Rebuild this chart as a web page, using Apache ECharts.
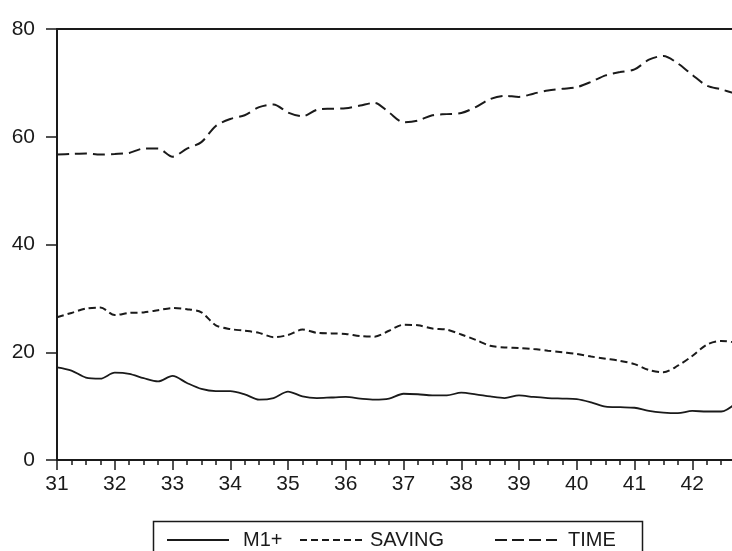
<!DOCTYPE html>
<html>
<head>
<meta charset="utf-8">
<script src="https://cdn.jsdelivr.net/npm/echarts@6/dist/echarts.min.js"></script>
<style>
html,body{margin:0;padding:0;background:#fff;width:732px;height:551px;overflow:hidden;}
#chart{width:753px;height:551px;}
</style>
</head>
<body>
<div id="chart"></div>
<script>
// Quarterly observations, 31Q1 .. 42Q4 (x = year + quarter offset)
const startYear = 31;
const quarterStep = 0.25;
const seriesNames = ['M1+', 'SAVING', 'TIME'];
const m1Values = [17.2,16.6,15.3,15.1,16.2,16.0,15.2,14.6,15.6,14.3,13.2,12.8,
  12.8,12.2,11.2,11.5,12.7,11.8,11.5,11.6,11.7,11.4,11.2,11.4,
  12.3,12.2,12.0,12.0,12.5,12.2,11.8,11.5,12.0,11.7,11.5,11.4,
  11.3,10.7,9.9,9.8,9.7,9.1,8.8,8.7,9.1,9.0,9.0,10.5];
const savingValues = [26.5,27.3,28.1,28.3,26.9,27.3,27.4,27.8,28.2,28.0,27.4,25.0,
  24.3,24.0,23.6,22.8,23.2,24.2,23.6,23.5,23.4,23.0,22.9,24.0,
  25.1,25.0,24.4,24.2,23.3,22.3,21.2,20.9,20.8,20.6,20.3,20.0,
  19.7,19.2,18.8,18.4,17.8,16.7,16.3,17.5,19.3,21.4,22.1,21.8];
const timeValues = [56.7,56.8,56.9,56.7,56.8,57.0,57.8,57.8,56.3,57.8,59.0,62.0,
  63.3,64.0,65.5,66.0,64.5,63.8,65.0,65.2,65.3,65.8,66.3,64.5,
  62.7,63.0,64.0,64.2,64.4,65.5,67.0,67.6,67.4,68.0,68.6,68.9,
  69.2,70.2,71.4,72.0,72.5,74.3,75.0,73.6,71.5,69.5,68.8,68.0];
const yTicks = [0, 20, 40, 60, 80];

function pairs(vals){ return vals.map((v,i)=>[startYear + i*quarterStep, v]); }

const ink = '#1a1a1a';
const font = '"Liberation Sans", Arial, sans-serif';

// legend key glyphs (solid / short-dash / long-dash strips, 62 x 2)
const keySolid = 'path://M0,0h62v2h-62z';
const keyShort = 'path://M0,0h7v2h-7zM11,0h7v2h-7zM22,0h7v2h-7zM33,0h7v2h-7zM44,0h7v2h-7zM55,0h7v2h-7z';
const keyLong = 'path://M0,0h12v2h-12zM17,0h12v2h-12zM34,0h12v2h-12zM51,0h11v2h-11z';

const chart = echarts.init(document.getElementById('chart'), null, {renderer:'canvas'});

function legendFor(name, left, icon, textPad){
  return {
    data:[{name:name, icon:icon}], left:left, top:530, orient:'horizontal',
    itemWidth: 62, itemHeight: 2, padding:0,
    itemStyle:{color:ink, borderWidth:0},
    textStyle:{color:ink, fontSize:20, fontFamily:font, padding:[0,0,0,textPad]},
    selectedMode:false
  };
}

chart.setOption({
  animation:false,
  backgroundColor:'#fff',
  grid:{left:57, right:0, top:29, bottom:91, containLabel:false},
  xAxis:[{
    type:'value', min:31, max:43, interval:1,
    axisLine:{show:true, lineStyle:{color:ink, width:2}},
    axisTick:{show:true, length:10, inside:false, lineStyle:{color:ink, width:1.5}},
    minorTick:{show:true, splitNumber:4, length:5, lineStyle:{color:ink, width:1.5}},
    splitLine:{show:false},
    axisLabel:{color:ink, fontSize:21, fontFamily:font, margin:14,
      formatter:function(v){ return (Number.isInteger(v) && v<=42) ? String(v) : ''; }}
  },{
    type:'value', position:'top', min:31, max:43,
    axisLine:{show:true, lineStyle:{color:ink, width:2}},
    axisTick:{show:false}, axisLabel:{show:false}, splitLine:{show:false}
  }],
  yAxis:{
    type:'value', min:yTicks[0], max:yTicks[yTicks.length-1], interval:20,
    axisLine:{show:true, lineStyle:{color:ink, width:2}},
    axisTick:{show:true, length:11, lineStyle:{color:ink, width:1.5}},
    splitLine:{show:false},
    axisLabel:{color:ink, fontSize:21, fontFamily:font, margin:22}
  },
  legend:[
    legendFor(seriesNames[0], 167, keySolid, 9),
    legendFor(seriesNames[1], 300, keyShort, 3),
    legendFor(seriesNames[2], 495, keyLong, 6)
  ],
  graphic:[{
    type:'rect', shape:{x:153.5, y:521.5, width:489, height:60},
    style:{fill:'none', stroke:ink, lineWidth:1.5}, silent:true, z:0
  }],
  series:[
    {name:seriesNames[0], type:'line', data:pairs(m1Values), symbol:'none', smooth:0.3,
      lineStyle:{color:ink, width:1.8, type:'solid'}, itemStyle:{color:ink}},
    {name:seriesNames[1], type:'line', data:pairs(savingValues), symbol:'none', smooth:0.3,
      lineStyle:{color:ink, width:2, type:[7,4]}, itemStyle:{color:ink}},
    {name:seriesNames[2], type:'line', data:pairs(timeValues), symbol:'none', smooth:0.3,
      lineStyle:{color:ink, width:2, type:[12,6]}, itemStyle:{color:ink}}
  ]
});
</script>
</body>
</html>
